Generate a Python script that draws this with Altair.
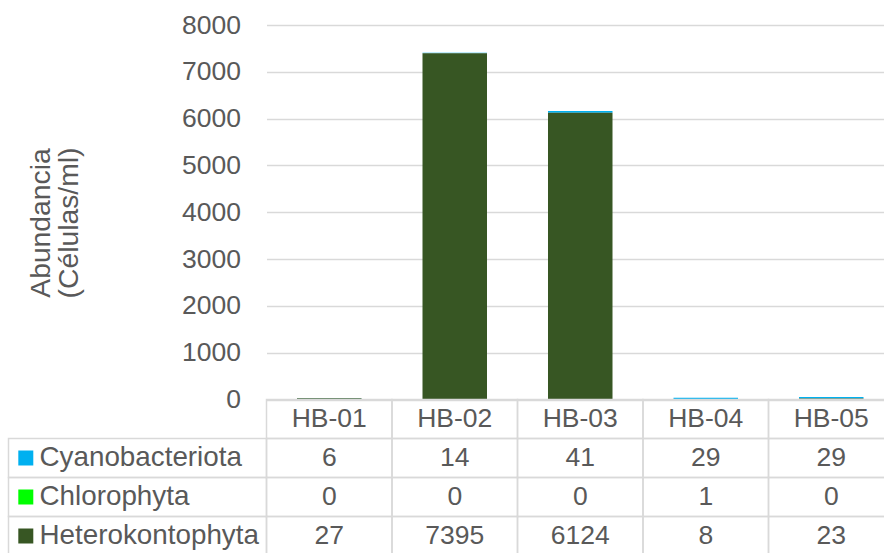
import altair as alt
import pandas as pd

# Samples and phytoplankton groups (cells/ml)
muestras = ["HB-01", "HB-02", "HB-03", "HB-04", "HB-05"]
grupos = ["Cyanobacteriota", "Chlorophyta", "Heterokontophyta"]
cyanobacteriota = [6, 14, 41, 29, 29]
chlorophyta = [0, 0, 0, 1, 0]
heterokontophyta = [27, 7395, 6124, 8, 23]
colores = ["#00B0F0", "#00FF00", "#375623"]
marcas_y = [0, 1000, 2000, 3000, 4000, 5000, 6000, 7000, 8000]

FUENTE = "Liberation Sans"
GRIS_TEXTO = "#595959"
GRIS_LINEA = "#d9d9d9"

# pixel geometry of the plot area and of the data table beneath it
ANCHO_COLUMNAS = 627.5
ALTO_BARRAS = 374.5
ALTO_FILA = 39

valores = {
    "Cyanobacteriota": cyanobacteriota,
    "Chlorophyta": chlorophyta,
    "Heterokontophyta": heterokontophyta,
}
# stacking order: Heterokontophyta at the bottom, Cyanobacteriota on top
orden_pila = {"Heterokontophyta": 0, "Chlorophyta": 1, "Cyanobacteriota": 2}

registros = []
for g in grupos:
    for m, v in zip(muestras, valores[g]):
        registros.append({"muestra": m, "grupo": g, "valor": v, "orden": orden_pila[g]})
df = pd.DataFrame(registros)

# data table: header row with the sample names, then one row per group
cabecera = "Muestra"
filas_tabla = [cabecera] + grupos
celdas = [{"muestra": m, "fila": cabecera, "texto": m} for m in muestras]
celdas += [{"muestra": r["muestra"], "fila": r["grupo"], "texto": str(r["valor"])} for r in registros]
df_tabla = pd.DataFrame(celdas)
df_filas = pd.DataFrame({"fila": grupos})

escala_color = alt.Scale(domain=grupos, range=colores)

x_comun = alt.X(
    "muestra:N",
    sort=muestras,
    scale=alt.Scale(domain=muestras, paddingInner=0, paddingOuter=0),
    axis=None,
)
y_tabla = alt.Y(
    "fila:N",
    sort=filas_tabla,
    scale=alt.Scale(
        domain=filas_tabla,
        paddingInner=0,
        paddingOuter=0,
        range=[ALTO_BARRAS, ALTO_BARRAS + ALTO_FILA * len(filas_tabla)],
    ),
    axis=None,
)

barras = (
    alt.Chart(df)
    .mark_bar(width=alt.RelativeBandSize(0.514))
    .encode(
        x=x_comun,
        y=alt.Y(
            "valor:Q",
            stack="zero",
            scale=alt.Scale(domain=[0, 8000], nice=False, range=[ALTO_BARRAS, 0]),
            axis=alt.Axis(
                values=marcas_y,
                format="d",
                grid=True,
                gridColor=GRIS_LINEA,
                gridWidth=1.5,
                domain=False,
                ticks=False,
                labelPadding=26,
                labelFontSize=26.5,
                labelColor=GRIS_TEXTO,
                labelFont=FUENTE,
                title=["Abundancia", "(Células/ml)"],
                titleFont=FUENTE,
                titleFontSize=28.3,
                titleFontWeight="normal",
                titleColor=GRIS_TEXTO,
                titleAngle=270,
                titleAlign="center",
                titleBaseline="middle",
                titleLineHeight=28,
                titleX=-225,
                titleY=197.5,
            ),
        ),
        color=alt.Color("grupo:N", scale=escala_color, legend=None),
        order=alt.Order("orden:Q"),
    )
)

# table grid: one framed cell per sample and row
rejilla = (
    alt.Chart(df_tabla)
    .mark_rect(fillOpacity=0, stroke=GRIS_LINEA, strokeWidth=1.5)
    .encode(x=x_comun, y=y_tabla)
)
texto_celdas = (
    alt.Chart(df_tabla)
    .mark_text(font=FUENTE, fontSize=26.5, color=GRIS_TEXTO)
    .encode(x=x_comun, y=y_tabla, text="texto:N")
)

# left column of the table: framed cells with the legend key and group name
marcos = (
    alt.Chart(df_filas)
    .mark_rect(fillOpacity=0, stroke=GRIS_LINEA, strokeWidth=1.5)
    .encode(x=alt.value(-258), x2=alt.value(0), y=y_tabla)
)
claves = (
    alt.Chart(df_filas)
    .mark_square(size=225, opacity=1)
    .encode(
        x=alt.value(-240.7),
        y=y_tabla,
        color=alt.Color("fila:N", scale=escala_color, legend=None),
    )
)
nombres = (
    alt.Chart(df_filas)
    .mark_text(font=FUENTE, fontSize=27.8, color=GRIS_TEXTO, align="left")
    .encode(x=alt.value(-227), y=y_tabla, text="fila:N")
)

# the table runs past the right and bottom edges of the canvas and is cut there
chart = (
    alt.layer(barras, rejilla, marcos, texto_celdas, claves, nombres)
    .resolve_scale(y="independent")
    .properties(
        width=ANCHO_COLUMNAS,
        height=530.5,
        autosize=alt.AutoSizeParams(type="none"),
        padding={"left": 266.5, "top": 25, "right": -10, "bottom": -2.5},
    )
    .configure_view(stroke=None)
)

chart.save("out.html", embed_options={"renderer": "svg", "actions": False})
